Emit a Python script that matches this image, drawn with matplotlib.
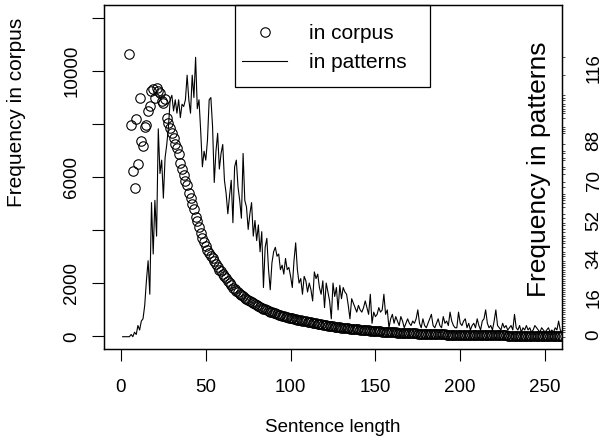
import numpy as np
import matplotlib.pyplot as plt
from matplotlib.patches import Rectangle
from matplotlib.lines import Line2D

plt.rcParams['font.family'] = ['Liberation Sans', 'DejaVu Sans']

# sentence length -> frequency in corpus
corpus_len = list(range(5, 261))
corpus_freq = [
    10650, 7950, 6220, 5590, 8200, 6500, 8970, 7370, 7160, 7880,
    7950, 8500, 8690, 9230, 9300, 8980, 9360, 9230, 9170, 8850,
    8790, 8920, 8230, 8040, 7850, 7650, 7475, 7250, 7100, 6850,
    6530, 6300, 6090, 5850, 5680, 5400, 5200, 4980, 4780, 4500,
    4330, 4130, 3900, 3720, 3560, 3400, 3260, 3130, 3010, 2950,
    2850, 2740, 2620, 2510, 2440, 2350, 2270, 2200, 2100, 2010,
    1930, 1820, 1780, 1700, 1650, 1590, 1540, 1500, 1450, 1400,
    1350, 1320, 1280, 1240, 1210, 1190, 1150, 1110, 1080, 1040,
    1010, 980, 950, 920, 900, 880, 860, 840, 810, 790,
    770, 750, 735, 720, 705, 690, 675, 660, 645, 630,
    615, 600, 590, 575, 560, 545, 535, 520, 510, 495,
    485, 470, 460, 450, 440, 425, 415, 405, 395, 385,
    375, 365, 355, 350, 340, 330, 322, 315, 305, 300,
    290, 283, 276, 270, 262, 255, 250, 243, 236, 230,
    225, 218, 212, 206, 200, 196, 190, 186, 180, 176,
    171, 166, 162, 158, 154, 150, 146, 142, 138, 135,
    131, 128, 125, 122, 119, 116, 113, 110, 107, 104,
    102, 99, 97, 94, 92, 90, 88, 85, 83, 81,
    79, 77, 75, 73, 72, 70, 68, 66, 65, 63,
    62, 60, 59, 57, 56, 54, 53, 52, 50, 49,
    48, 47, 46, 45, 44, 43, 42, 41, 40, 39,
    38, 37, 36, 35, 35, 34, 33, 32, 31, 31,
    30, 29, 29, 28, 27, 27, 26, 25, 25, 24,
    24, 23, 22, 22, 21, 21, 20, 20, 19, 19,
    18, 18, 17, 17, 17, 16, 16, 15, 15, 15,
    14, 14, 13, 13, 13, 12,
]

# sentence length -> frequency in patterns
pattern_len = list(range(1, 261))
pattern_freq = [
    0, 0, 0, 0, 0, 1, 0, 2, 1, 5,
    3, 7, 8, 14, 25, 34, 19, 60, 37, 61,
    45, 93, 73, 79, 62, 80, 86, 94, 106, 108,
    101, 106, 100, 106, 98, 104, 103, 106, 117, 106,
    100, 117, 107, 125, 102, 106, 92, 76, 83, 79,
    88, 106, 107, 94, 69, 83, 91, 75, 82, 86,
    70, 64, 55, 63, 70, 51, 76, 79, 67, 61,
    53, 82, 61, 58, 48, 55, 60, 45, 52, 43,
    50, 38, 47, 22, 40, 44, 30, 21, 33, 38,
    40, 36, 37, 30, 32, 28, 35, 30, 31, 27,
    22, 34, 42, 30, 24, 26, 19, 27, 25, 20,
    24, 21, 16, 29, 26, 28, 22, 19, 25, 13,
    24, 20, 16, 8, 24, 18, 22, 12, 23, 17,
    22, 20, 19, 14, 8, 17, 15, 13, 11, 14,
    12, 11, 13, 16, 13, 10, 19, 6, 11, 9,
    10, 13, 11, 12, 19, 10, 12, 4, 8, 10,
    6, 9, 7, 5, 9, 7, 4, 6, 8, 6,
    5, 7, 6, 8, 12, 6, 4, 8, 5, 4,
    6, 8, 10, 5, 4, 6, 8, 5, 4, 9,
    6, 7, 5, 11, 7, 5, 4, 4, 11, 6,
    5, 7, 8, 4, 6, 3, 5, 6, 4, 8,
    5, 3, 7, 8, 12, 6, 4, 5, 3, 7,
    12, 5, 4, 3, 6, 4, 5, 3, 4, 5,
    3, 10, 4, 3, 5, 2, 4, 3, 5, 3,
    4, 2, 3, 5, 4, 3, 2, 4, 3, 2,
    3, 4, 2, 3, 2, 4, 3, 7, 3, 2,
]

x_ticks = [0, 50, 100, 150, 200, 250]
left_ticks = [0, 2000, 4000, 6000, 8000, 10000, 12000]
left_labels = ['0', '2000', '', '6000', '', '10000', '']
right_pos = [1, 17.5, 35, 52, 70, 88, 120]
right_labels = ['0', '16', '34', '52', '70', '88', '116']

W, H = 610, 447
fig = plt.figure(figsize=(W / 100, H / 100), dpi=100)
ax = fig.add_axes([104 / W, 98 / H, 458 / W, 344 / H])

ax.plot(corpus_len, corpus_freq, linestyle='none', marker='o', ms=6.8,
        mfc='none', mec='black', mew=0.8)
ax.set_xlim(-10, 260)
ax.set_ylim(-480, 12480)
ax.set_xticks(x_ticks)
ax.set_yticks(left_ticks)
ax.set_yticklabels(left_labels, rotation=90, va='center')
ax.tick_params(axis='both', direction='out', length=8.6, width=0.8,
               labelsize=13.5, color='black')
ax.tick_params(axis='x', pad=13)
ax.tick_params(axis='y', pad=8.5)

ax2 = ax.twinx()
ax2.plot(pattern_len, pattern_freq, color='black', lw=0.8)
ax2.set_ylim(-5.5, 148.4)
ax2.set_yticks(right_pos)
ax2.set_yticklabels(right_labels, rotation=90, va='center', ha='left')
ax2.set_yticks(np.unique(pattern_freq), minor=True)
ax2.tick_params(axis='y', which='major', length=0, pad=17, labelsize=13.5)
ax2.tick_params(axis='y', which='minor', length=2.2, width=0.5,
                direction='out', color='black')

for a in (ax, ax2):
    for s in a.spines.values():
        s.set_color('black')
        s.set_linewidth(0.9)

# legend box
fig.patches.append(Rectangle((235 / W, 1 - 87 / H), 195 / W, 82 / H,
                             transform=fig.transFigure, fill=False,
                             edgecolor='black', lw=0.9))
handles = [Line2D([], [], linestyle='none', marker='o', ms=6.8, mfc='none',
                  mec='black', mew=0.8),
           Line2D([], [], color='black', lw=0.8)]
fig.legend(handles, ['in corpus', 'in patterns'], loc='upper left',
           bbox_to_anchor=(242 / W, 1 - 24 / H), frameon=False, fontsize=15,
           handlelength=2.16, handletextpad=1.06, borderpad=0,
           borderaxespad=0, labelspacing=0.5)

fig.text(17 / W, 1 - 112 / H, 'Frequency in corpus', rotation=90,
         ha='center', va='center', fontsize=15)
fig.text(539 / W, 1 - 169 / H, 'Frequency in patterns', rotation=90,
         ha='center', va='center', fontsize=19)
fig.text(333 / W, 1 - 428 / H, 'Sentence length', ha='center', va='center',
         fontsize=13.5)

fig.savefig('out.png', dpi=100)
